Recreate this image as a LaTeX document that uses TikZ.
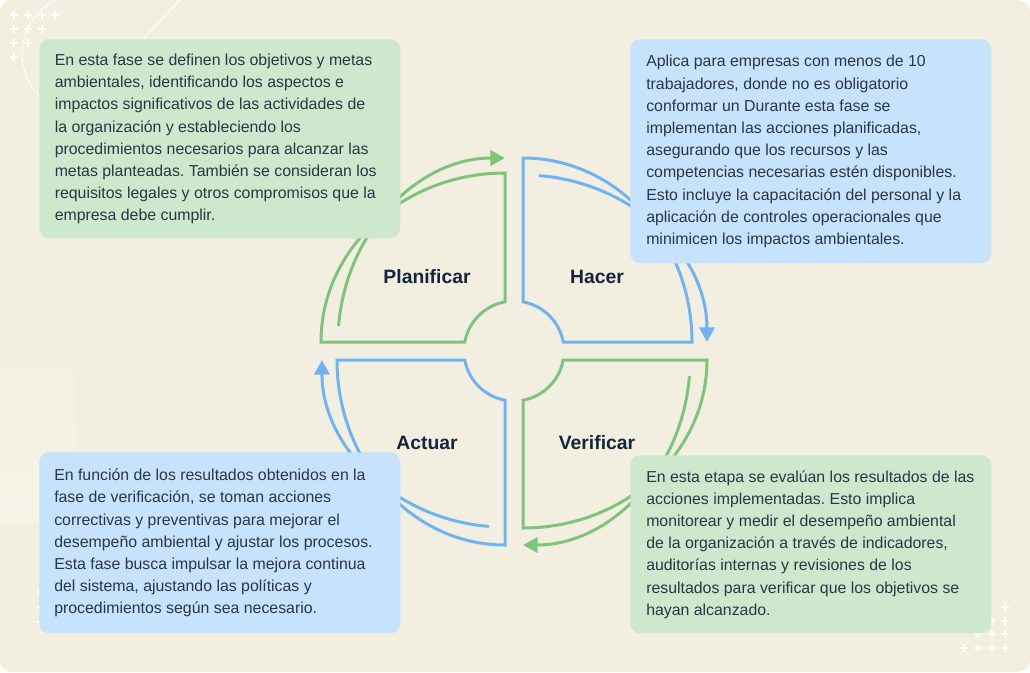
\documentclass[tikz,border=0pt]{standalone}
\usepackage{fontspec}
\setmainfont{Liberation Sans}
\usetikzlibrary{arrows.meta}

\definecolor{cardbg}{HTML}{F2EFE0}
\definecolor{cyclegreen}{HTML}{7CC57B}
\definecolor{cycleblue}{HTML}{6EB4F5}
\definecolor{greenfill}{HTML}{CDE8CC}
\definecolor{bluefill}{HTML}{C6E2FC}
\definecolor{bodytext}{HTML}{2B3646}
\definecolor{labeltext}{HTML}{16243D}

\tikzset{
  phase/.style={line width=2.25pt, line join=miter},
  cycarrow/.style={line width=2.25pt, -{Triangle[length=11pt,width=11.5pt]}},
  infobox/.style={anchor=north west, rounded corners=7.5pt, inner sep=0pt},
  boxtext/.style={anchor=west, inner sep=0pt, align=left, text=bodytext,
    font=\fontsize{11.9pt}{16.65pt}\selectfont\frenchspacing},
  phaselabel/.style={inner sep=0pt, text=labeltext,
    font=\fontsize{14.5pt}{17pt}\selectfont\bfseries},
  deco/.style={white, line width=1.1pt},
}

\begin{document}
\begin{tikzpicture}[x=0.75pt,y=-0.75pt]
\useasboundingbox (0,0) rectangle (1030,672);

% card
\fill[white] (0,0) rectangle (1030,672);
\fill[cardbg, rounded corners=9pt] (0,0) rectangle (1030,672);

\begin{scope}
\clip[rounded corners=9pt] (0,0) rectangle (1030,672);
\shade[top color=cardbg, bottom color=cardbg!75!white, rounded corners=12pt]
  (-20,280) rectangle (75,525);
\draw[white, line width=0.6pt] (54.8,0.5) arc[start angle=243, end angle=134, radius=60];
\draw[white, line width=0.6pt] (182,-2) .. controls (165,15) .. (143,40);
% plus marks
\foreach \px/\py in {14/15,28/15,42/15,55/15,14/29,28/29,42/29,14/43,28/43,14/57,
    1005/607,992/621,1005/621,978/634,992/634,1005/634,964/648,978/648,992/648,1005/648,
    41/592,41/607,41/622}
  \draw[deco] (\px-4,\py) -- (\px+4,\py) (\px,\py-4) -- (\px,\py+4);
\end{scope}

% quadrants
\draw[phase, cyclegreen] (505,301.8) -- (505,173)
  arc[start angle=270, end angle=180, x radius=184, y radius=169]
  -- (464.8,342) arc[start angle=190.4, end angle=259.6, radius=50] -- cycle;
\draw[phase, cycleblue] (523,301.8) -- (523,158)
  arc[start angle=270, end angle=360, x radius=169, y radius=184]
  -- (563.2,342) arc[start angle=349.6, end angle=280.4, radius=50] -- cycle;
\draw[phase, cyclegreen] (563.2,360) -- (707,360)
  arc[start angle=0, end angle=90, x radius=184, y radius=168]
  -- (523,400.2) arc[start angle=79.6, end angle=10.4, radius=50] -- cycle;
\draw[phase, cycleblue] (505,400.2) -- (505,545)
  arc[start angle=90, end angle=180, x radius=168, y radius=185]
  -- (464.8,360) arc[start angle=169.6, end angle=100.4, radius=50] -- cycle;

% arrows round the cycle
\draw[cycarrow, cyclegreen] (338.6,326) arc[start angle=185, end angle=270, x radius=167, y radius=184];
\draw[cycarrow, cycleblue] (539,175.6) arc[start angle=275, end angle=360, x radius=184, y radius=167];
\draw[cycarrow, cyclegreen] (689.4,376.1) arc[start angle=5, end angle=90, x radius=167, y radius=185];
\draw[cycarrow, cycleblue] (489,526.4) arc[start angle=95, end angle=180, x radius=183, y radius=167];

\node[phaselabel] (planLabel) at (427,277) {Planificar};
\node[phaselabel] (hacerLabel) at (597,277) {Hacer};
\node[phaselabel] (actuarLabel) at (427,443) {Actuar};
\node[phaselabel] (verifLabel) at (597,443) {Verificar};

% info boxes
\node[infobox, fill=greenfill, minimum width=270.75pt, minimum height=149.25pt] (planBox) at (39,39) {};
\node[infobox, fill=bluefill, minimum width=270.75pt, minimum height=168pt] (hacerBox) at (630,39) {};
\node[infobox, fill=bluefill, minimum width=270.75pt, minimum height=135.75pt] (actuarBox) at (39,452) {};
\node[infobox, fill=greenfill, minimum width=270.75pt, minimum height=133.5pt] (verifBox) at (630,455) {};

\node[boxtext] (planText) at (54.5,139) {En esta fase se definen los objetivos y metas\\
ambientales, identificando los aspectos e\\
impactos significativos de las actividades de\\
la organización y estableciendo los\\
procedimientos necesarios para alcanzar las\\
metas planteadas. También se consideran los\\
requisitos legales y otros compromisos que la\\
empresa debe cumplir.};

\node[boxtext] (hacerText) at (646,151.5) {Aplica para empresas con menos de 10\\
trabajadores, donde no es obligatorio\\
conformar un Durante esta fase se\\
implementan las acciones planificadas,\\
asegurando que los recursos y las\\
competencias necesarias estén disponibles.\\
Esto incluye la capacitación del personal y la\\
aplicación de controles operacionales que\\
minimicen los impactos ambientales.};

\node[boxtext] (actuarText) at (54,543) {En función de los resultados obtenidos en la\\
fase de verificación, se toman acciones\\
correctivas y preventivas para mejorar el\\
desempeño ambiental y ajustar los procesos.\\
Esta fase busca impulsar la mejora continua\\
del sistema, ajustando las políticas y\\
procedimientos según sea necesario.};

\node[boxtext] (verifText) at (646,544.5) {En esta etapa se evalúan los resultados de las\\
acciones implementadas. Esto implica\\
monitorear y medir el desempeño ambiental\\
de la organización a través de indicadores,\\
auditorías internas y revisiones de los\\
resultados para verificar que los objetivos se\\
hayan alcanzado.};

\end{tikzpicture}
\end{document}
